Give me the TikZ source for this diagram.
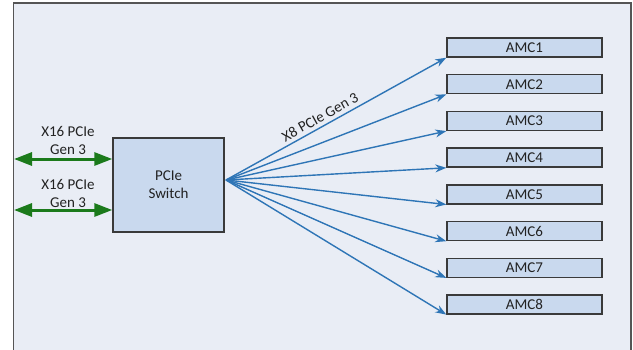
\documentclass[tikz,border=0pt]{standalone}
\usepackage{fontspec}
\setmainfont{Carlito}
\usetikzlibrary{arrows.meta}
\definecolor{bgfill}{HTML}{E9EDF5}
\definecolor{framecol}{HTML}{555555}
\definecolor{boxfill}{HTML}{C9D9EE}
\definecolor{boxdraw}{HTML}{3A3A3A}
\definecolor{txt}{HTML}{222222}
\definecolor{bluearr}{HTML}{2E75B6}
\definecolor{greenarr}{HTML}{1B7A1B}
\begin{document}
\begin{tikzpicture}[x=1pt,y=-1pt,
  every node/.style={font=\fontsize{15}{18}\selectfont, text=txt},
  swbox/.style={draw=boxdraw, line width=1.4pt, fill=boxfill, minimum width=111pt, minimum height=94pt, inner sep=0pt, align=center},
  amcbox/.style={draw=boxdraw, line width=1.4pt, fill=boxfill, minimum width=155pt, minimum height=19pt, inner sep=0pt},
  bluelink/.style={draw=bluearr, line width=1.4pt, -{Stealth[length=11pt,width=8pt]}},
  greenlink/.style={draw=greenarr, line width=3pt, {Triangle[length=18pt,width=13pt]}-{Triangle[length=18pt,width=13pt]}},
  lbl/.style={align=center, inner sep=0pt}]
\useasboundingbox (0,0) rectangle (633,349);
\begin{scope}
\clip (0,0) rectangle (633,349);
\draw[fill=bgfill, draw=framecol, line width=1.5pt] (13.5,3) rectangle (631,370);
\end{scope}
\node[swbox] (sw) at (168.5,185) {PCIe\\Switch};
\coordinate (fan) at (226,180);
\foreach \i in {1,...,8} {
  \node[amcbox] (amc\i) at (524.5,{47.5+36.7*(\i-1)}) {AMC\i};
  \draw[bluelink] (fan) -- (amc\i.south west);
}
\node[lbl, rotate=29] (x8) at (320,117) {X8 PCIe Gen 3};
\coordinate (l1) at (14,159);
\coordinate (l2) at (14,210);
\draw[greenlink] (l1) -- (sw.west |- l1);
\draw[greenlink] (l2) -- (sw.west |- l2);
\node[lbl] (t1) at (68,140) {X16 PCIe\\Gen 3};
\node[lbl] (t2) at (68,193.5) {X16 PCIe\\Gen 3};
\end{tikzpicture}
\end{document}
